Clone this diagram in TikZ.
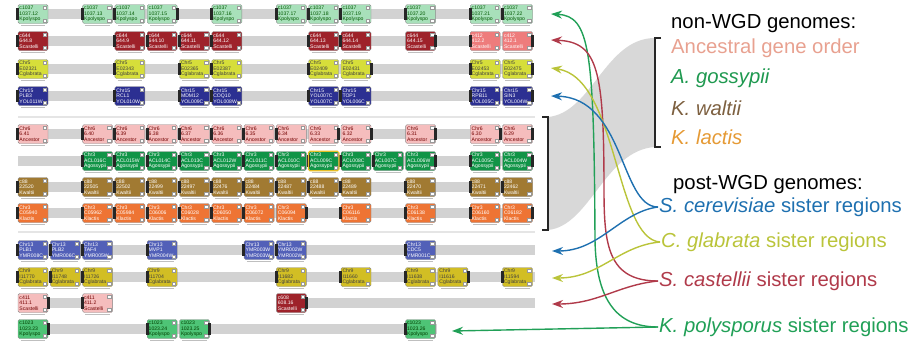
\documentclass[tikz,border=0pt]{standalone}
\usepackage{fontspec}
\setmainfont{Liberation Sans}
\usetikzlibrary{arrows.meta,shapes}

\definecolor{trackgrey}{RGB}{210,210,210}
\definecolor{funnelgrey}{RGB}{216,216,216}
% gene box fills
\definecolor{kpfill}{RGB}{168,224,186}
\definecolor{kpfillb}{RGB}{78,196,118}
\definecolor{scfill}{RGB}{158,34,42}
\definecolor{sclight}{RGB}{238,124,124}
\definecolor{cgfill}{RGB}{214,222,58}
\definecolor{cgfillb}{RGB}{210,190,36}
\definecolor{sefill}{RGB}{44,48,146}
\definecolor{sefillb}{RGB}{82,96,184}
\definecolor{anfill}{RGB}{245,189,189}
\definecolor{agfill}{RGB}{17,148,71}
\definecolor{kwfill}{RGB}{161,122,50}
\definecolor{klfill}{RGB}{238,116,52}
\definecolor{hilite}{RGB}{230,190,40}
% legend and link colours
\definecolor{ancc}{RGB}{232,161,144}
\definecolor{agosc}{RGB}{31,153,80}
\definecolor{kwalc}{RGB}{125,96,64}
\definecolor{klacc}{RGB}{229,154,53}
\definecolor{scerc}{RGB}{30,112,176}
\definecolor{cglac}{RGB}{186,196,58}
\definecolor{scasc}{RGB}{176,58,74}
\definecolor{kpolc}{RGB}{33,160,87}

\tikzstyle{gene} = [rectangle, draw=black!45, rounded corners=1.5pt,
    minimum width=30pt, minimum height=19pt, inner xsep=1.5pt, inner ysep=0.5pt,
    text width=27pt, align=left, font=\fontsize{5.1}{5.5}\selectfont,
    path picture={
      \fill[white, draw=black!40, line width=0.3pt, sharp corners]
        ([xshift=-5pt,yshift=-1.5pt]path picture bounding box.north east) rectangle ++(3.2pt,-3.2pt);
      \fill[white, draw=black!40, line width=0.3pt, sharp corners]
        ([xshift=-5pt,yshift=1.5pt]path picture bounding box.south east) rectangle ++(3.2pt,3.2pt);}]
\tikzstyle{kpbox} = [fill=kpfill, text=green!35!black]
\tikzstyle{kpboxb} = [fill=kpfillb, text=green!25!black]
\tikzstyle{scbox} = [fill=scfill, text=white]
\tikzstyle{sclbox} = [fill=sclight, text=white]
\tikzstyle{cgbox} = [fill=cgfill, text=black!75]
\tikzstyle{cgboxb} = [fill=cgfillb, text=black!75]
\tikzstyle{sebox} = [fill=sefill, text=white]
\tikzstyle{seboxb} = [fill=sefillb, text=white]
\tikzstyle{anbox} = [fill=anfill, text=red!45!black]
\tikzstyle{agbox} = [fill=agfill, text=white]
\tikzstyle{kwbox} = [fill=kwfill, text=white]
\tikzstyle{klbox} = [fill=klfill, text=white]
\tikzstyle{genecap} = [fill=black!85]
\tikzstyle{genetick} = [draw=black!25, line width=0.5pt]
\tikzstyle{track} = [fill=trackgrey]
\tikzstyle{sepline} = [draw=black!10, line width=1.2pt]
\tikzstyle{bracket} = [draw=black!85, line width=1.5pt]
\tikzstyle{legend} = [anchor=west, inner sep=1pt, font=\fontsize{20.3}{23}\selectfont]
\tikzstyle{link} = [-{Stealth[length=11pt,width=8pt]}, line width=1.4pt]

% one gene: name, column, row y, style, text, capped side
\newcommand{\gene}[6]{%
  \node[gene,#4] (#1) at ({33+32.3*#2},#3) {#5};
  \fill[genecap] ([xshift=-1.5pt,yshift=-3.5pt]#1.north #6) rectangle ([xshift=1.5pt,yshift=3.5pt]#1.south #6);
  \draw[genetick] ([xshift=3pt,yshift=-1.8pt]#1.south west) -- ([xshift=-3pt,yshift=-1.8pt]#1.south east);
}
% grey chromosome segment: from x, to x, row y
\newcommand{\track}[3]{\fill[track] (#1,{#3-5}) rectangle (#2,{#3+5});}

\begin{document}
\begin{tikzpicture}[x=1pt,y=-1pt]
  \useasboundingbox (0,0) rectangle (913,343);

  % band joining the two brackets
  \fill[funnelgrey] (548,117) .. controls (592,113) and (605,38) .. (655,38)
    -- (655,147) .. controls (605,150) and (590,226) .. (548,230) -- cycle;

  \draw[sepline] (18,117) -- (535,117);
  \draw[sepline] (18,232) -- (535,232);

  % K. polysporus
  \track{18}{533}{14}
  \foreach \col/\id/\sd in {0/1037.12/west, 2/1037.13/west, 3/1037.14/west, 4/1037.15/east,
      6/1037.16/west, 8/1037.17/west, 9/1037.18/west, 10/1037.19/west, 12/1037.20/west,
      14/1037.21/west, 15/1037.22/west}
    {\gene{kp\col}{\col}{14}{kpbox}{c1037\\\id\\Kpolyspo}{\sd}}

  % S. castellii
  \track{18}{533}{41}
  \foreach \col/\id/\sd in {0/644.8/west, 3/644.9/west, 4/644.10/west, 5/644.11/west,
      6/644.12/west, 9/644.13/west, 10/644.14/west, 12/644.15/east}
    {\gene{sc\col}{\col}{41}{scbox}{c644\\\id\\Scastelli}{\sd}}
  \gene{sc14}{14}{41}{sclbox}{c412\\412.2\\Scastelli}{west}
  \gene{sc15}{15}{41}{sclbox}{c412\\412.1\\Scastelli}{east}

  % C. glabrata
  \track{18}{533}{69}
  \foreach \col/\id/\sd in {0/E02321/west, 3/E02343/west, 5/E02365/west, 6/E02387/west,
      9/E02409/west, 10/E02431/east, 14/E02453/west, 15/E02475/east}
    {\gene{cg\col}{\col}{69}{cgbox}{Chr5\\\id\\Cglabrata}{\sd}}

  % S. cerevisiae
  \track{18}{533}{96}
  \foreach \col/\nm/\sys/\sd in {0/PLB3/YOL011W/west, 3/RCL1/YOL010W/west, 5/MDM12/YOL009C/west,
      6/COQ10/YOL008W/west, 9/YOL007C/YOL007C/west, 10/TOP1/YOL006C/west,
      14/RPB11/YOL005C/west, 15/SIN3/YOL004W/east}
    {\gene{se\col}{\col}{96}{sebox}{Chr15\\\nm\\\sys}{\sd}}

  % ancestral order
  \track{18}{533}{134}
  \foreach \col/\id/\sd in {0/6.41/west, 2/6.40/west, 3/6.39/west, 4/6.38/west, 5/6.37/west,
      6/6.36/west, 7/6.35/west, 8/6.34/west, 9/6.33/east, 10/6.32/east, 12/6.31/east,
      14/6.30/east, 15/6.29/east}
    {\gene{an\col}{\col}{134}{anbox}{Chr6\\\id\\Ancestor}{\sd}}

  % A. gossypii
  \track{18}{533}{161}
  \foreach \col/\id/\sd in {2/ACL016C/west, 3/ACL015W/west, 4/ACL014C/west, 5/ACL013C/west,
      6/ACL012W/west, 7/ACL011C/west, 8/ACL010C/west, 9/ACL009C/west, 10/ACL008C/west,
      11/ACL007C/west, 12/ACL006W/east, 14/ACL005C/west, 15/ACL004W/east}
    {\gene{ag\col}{\col}{161}{agbox}{Chr3\\\id\\Agossypii}{\sd}}
  \draw[hilite, line width=1.2pt, rounded corners=1.5pt] (ag9.north west) rectangle (ag9.south east);

  % K. waltii
  \track{18}{533}{187}
  \foreach \col/\id/\sd in {0/22520/west, 2/22505/west, 3/22502/west, 4/22499/west,
      5/22497/west, 6/22476/west, 7/22484/west, 8/22487/west, 9/22488/west, 10/22489/west,
      12/22470/west, 14/22471/west, 15/22462/west}
    {\gene{kw\col}{\col}{187}{kwbox}{c88\\\id\\Kwaltii}{\sd}}

  % K. lactis
  \track{18}{533}{213}
  \foreach \col/\id/\sd in {0/C05940/west, 2/C05962/west, 3/C05984/west, 4/C06006/west,
      5/C06028/west, 6/C06050/west, 7/C06072/west, 8/C06094/east, 10/C06116/west,
      12/C06138/west, 14/C06160/west, 15/C06182/east}
    {\gene{kl\col}{\col}{213}{klbox}{Chr3\\\id\\Klactis}{\sd}}

  % S. cerevisiae, second copy
  \track{18}{535}{250}
  \foreach \col/\nm/\sys/\sd in {0/PLB1/YMR008C/west, 1/PLB2/YMR006C/west, 2/TAF4/YMR005W/west,
      4/MVP1/YMR004W/west, 7/YMR003W/YMR003W/west, 8/YMR002W/YMR002W/west, 12/CDC5/YMR001C/west}
    {\gene{sf\col}{\col}{250}{seboxb}{Chr13\\\nm\\\sys}{\sd}}

  % C. glabrata, second copy
  \track{18}{535}{277}
  \foreach \col/\id/\sd in {0/I11770/west, 1/I11748/west, 2/I11726/west, 4/I11704/west,
      8/I11682/west, 10/I11660/west, 12/I11638/west, 13/I11616/east, 15/I11594/west}
    {\gene{ch\col}{\col}{277}{cgboxb}{Chr9\\\id\\Cglabrata}{\sd}}

  % S. castellii, second copy
  \track{18}{113}{303}
  \track{277}{535}{303}
  \gene{sd0}{0}{303}{anbox}{c411\\411.1\\Scastelli}{east}
  \gene{sd2}{2}{303}{anbox}{c411\\411.2\\Scastelli}{west}
  \gene{sd8}{8}{303}{scbox}{c608\\608.16\\Scastelli}{east}

  % K. polysporus, second copy
  \track{18}{437}{329}
  \foreach \col/\id/\sd in {0/1023.23/east, 4/1023.24/west, 5/1023.25/east, 12/1023.26/west}
    {\gene{kq\col}{\col}{329}{kpboxb}{c1023\\\id\\Kpolyspo}{\sd}}

  % brackets
  \draw[bracket] (542,117) -- (548,117) -- (548,230) -- (542,230);
  \draw[bracket] (661,38) -- (655,38) -- (655,147) -- (661,147);

  % legend
  \node[legend] (nonwgd) at (670,24) {non-WGD genomes:};
  \node[legend, text=ancc] (anc) at (670,48) {Ancestral gene order};
  \node[legend, text=agosc] (agos) at (670,78) {\textit{A. gossypii}};
  \node[legend, text=kwalc] (kwal) at (670,108) {\textit{K. waltii}};
  \node[legend, text=klacc] (klac) at (670,137) {\textit{K. lactis}};
  \node[legend] (postwgd) at (672,185) {post-WGD genomes:};
  \node[legend, text=scerc] (cerlab) at (658,207) {\textit{S. cerevisiae} sister regions};
  \node[legend, text=cglac] (glalab) at (660,242) {\textit{C. glabrata} sister regions};
  \node[legend, text=scasc] (caslab) at (658,281) {\textit{S. castellii} sister regions};
  \node[legend, text=kpolc] (pollab) at (658,327) {\textit{K. polysporus} sister regions};

  % arrow ends beside the tracks
  \coordinate (kpTop) at (551,14);
  \coordinate (scTop) at (551,40);
  \coordinate (cgTop) at (551,68);
  \coordinate (seTop) at (551,96);
  \coordinate (seBot) at (552,251);
  \coordinate (cgBot) at (552,278);
  \coordinate (scBot) at (552,304);
  \coordinate (kpBot) at (452,331);

  \draw[link, kpolc] (pollab.west) -- (kpBot);
  \draw[link, kpolc] (pollab.west) .. controls (615,327) and (596,298) .. (595,240)
    .. controls (594,50) and (590,16) .. (kpTop);
  \draw[link, scasc] (caslab.west) .. controls (608,281) and (604,245) .. (604,190)
    .. controls (604,70) and (598,42) .. (scTop);
  \draw[link, scasc] (caslab.west) .. controls (618,285) and (598,304) .. (scBot);
  \draw[link, cglac] (glalab.west) .. controls (615,239) and (618,78) .. (cgTop);
  \draw[link, cglac] (glalab.west) .. controls (618,246) and (600,278) .. (cgBot);
  \draw[link, scerc] (cerlab.west) .. controls (620,207) and (625,98) .. (seTop);
  \draw[link, scerc] (cerlab.west) .. controls (620,212) and (600,251) .. (seBot);
\end{tikzpicture}
\end{document}
